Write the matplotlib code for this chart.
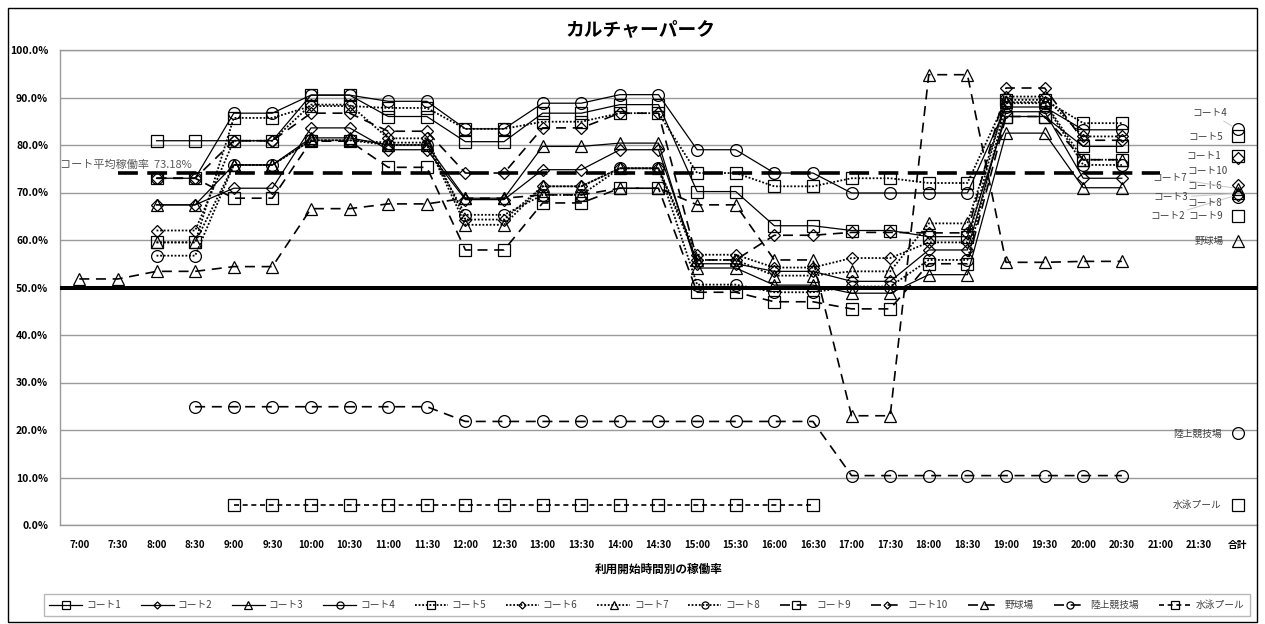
import numpy as np
import matplotlib
matplotlib.use('Agg')
import matplotlib.pyplot as plt
from matplotlib.patches import Rectangle
from matplotlib.ticker import FuncFormatter

plt.rcParams['font.family'] = ['Noto Sans CJK JP', 'DejaVu Sans']

nan = np.nan

title = 'カルチャーパーク'
x_title = '利用開始時間別の稼働率'
categories = ['7:00', '7:30', '8:00', '8:30', '9:00', '9:30', '10:00', '10:30',
              '11:00', '11:30', '12:00', '12:30', '13:00', '13:30', '14:00', '14:30',
              '15:00', '15:30', '16:00', '16:30', '17:00', '17:30', '18:00', '18:30',
              '19:00', '19:30', '20:00', '20:30', '21:00', '21:30', '合計']

court1 = [nan, nan, 80.9, 80.9, 80.9, 80.9, 90.5, 90.5, 86.0, 86.0, 80.7, 80.7, 86.7, 86.7, 88.5, 88.5,
          70.2, 70.2, 63.0, 63.0, 62.0, 62.0, 60.7, 60.7, 86.0, 86.0, 79.7, 79.7, nan, nan, 77.6]
court2 = [nan, nan, 67.4, 67.4, 70.9, 70.9, 83.6, 83.6, 79.0, 79.0, 68.5, 68.5, 74.8, 74.8, 79.0, 79.0,
          55.0, 55.0, 53.4, 53.4, 51.3, 51.3, 57.9, 57.9, 87.0, 87.0, 73.0, 73.0, nan, nan, 69.5]
court3 = [nan, nan, 67.4, 67.4, 75.8, 75.8, 81.5, 81.5, 80.0, 80.0, 68.8, 68.8, 79.7, 79.7, 80.4, 80.4,
          54.1, 54.1, 50.5, 50.5, 48.8, 48.8, 52.7, 52.7, 82.5, 82.5, 71.0, 71.0, nan, nan, 69.8]
court4 = [nan, nan, 73.0, 73.0, 86.7, 86.7, 90.5, 90.5, 89.2, 89.2, 83.4, 83.4, 88.8, 88.8, 90.6, 90.6,
          79.0, 79.0, 74.1, 74.1, 69.9, 69.9, 69.9, 69.9, 88.0, 88.0, 83.2, 83.2, nan, nan, 83.3]
court5 = [nan, nan, 59.5, 59.5, 85.7, 85.7, 88.2, 88.2, 87.8, 87.8, 83.4, 83.4, 84.9, 84.9, 86.7, 86.7,
          74.1, 74.1, 71.3, 71.3, 73.0, 73.0, 72.0, 72.0, 89.5, 89.5, 84.6, 84.6, nan, nan, 82.0]
court6 = [nan, nan, 62.0, 62.0, 80.9, 80.9, 88.5, 88.5, 81.4, 81.4, 64.3, 64.3, 71.3, 71.3, 75.1, 75.1,
          56.9, 56.9, 54.2, 54.2, 56.2, 56.2, 59.5, 59.5, 90.2, 90.2, 81.8, 81.8, nan, nan, 71.5]
court7 = [nan, nan, 59.5, 59.5, 75.8, 75.8, 81.0, 81.0, 80.5, 80.5, 63.2, 63.2, 71.3, 71.3, 75.1, 75.1,
          55.8, 55.8, 52.5, 52.5, 53.4, 53.4, 63.5, 63.5, 89.0, 89.0, 76.9, 76.9, nan, nan, 70.8]
court8 = [nan, nan, 56.7, 56.7, 75.8, 75.8, 81.0, 81.0, 80.0, 80.0, 65.3, 65.3, 69.5, 69.5, 75.1, 75.1,
          50.6, 50.6, 49.0, 49.0, 50.2, 50.2, 55.8, 55.8, 88.8, 88.8, 75.8, 75.8, nan, nan, 69.0]
court9 = [nan, nan, 73.0, 73.0, 68.8, 68.8, 80.8, 80.8, 75.3, 75.3, 57.9, 57.9, 67.8, 67.8, 70.9, 70.9,
          49.0, 49.0, 47.0, 47.0, 45.5, 45.5, 55.0, 55.0, 86.0, 86.0, 76.9, 76.9, nan, nan, 65.1]
court10 = [nan, nan, 73.0, 73.0, 80.9, 80.9, 86.7, 86.7, 82.9, 82.9, 74.1, 74.1, 83.6, 83.6, 86.7, 86.7,
           55.8, 55.8, 61.0, 61.0, 61.6, 61.6, 61.5, 61.5, 92.0, 92.0, 81.0, 81.0, nan, nan, 77.3]
baseball = [51.8, 51.8, 53.4, 53.4, 54.4, 54.4, 66.6, 66.6, 67.6, 67.6, 68.8, 68.8, 69.5, 69.5, 70.9, 70.9,
            67.4, 67.4, 55.8, 55.8, 23.0, 23.0, 94.8, 94.8, 55.3, 55.3, 55.5, 55.5, nan, nan, 59.8]
athletics = [nan, nan, nan, 24.9, 24.9, 24.9, 24.9, 24.9, 24.9, 24.9, 21.8, 21.8, 21.8, 21.8, 21.8, 21.8,
             21.8, 21.8, 21.8, 21.8, 10.4, 10.4, 10.4, 10.4, 10.4, 10.4, 10.4, 10.4, nan, nan, 19.3]
pool = [nan, nan, nan, nan, 4.25, 4.25, 4.25, 4.25, 4.25, 4.25, 4.25, 4.25, 4.25, 4.25, 4.25, 4.25,
        4.25, 4.25, 4.25, 4.25, nan, nan, nan, nan, nan, nan, nan, nan, nan, nan, 4.25]

series_names = ['コート1', 'コート2', 'コート3', 'コート4', 'コート5', 'コート6', 'コート7', 'コート8',
                'コート9', 'コート10', '野球場', '陸上競技場', '水泳プール']
series_values = [court1, court2, court3, court4, court5, court6, court7, court8,
                 court9, court10, baseball, athletics, pool]

avg_label = 'コート平均稼働率  73.18%'
avg_line = [nan] + [74.1] * 28 + [nan, nan]
target_line = 50.0

# ---- styles ----
SOLID = '-'
DOT = (0, (1.0, 1.0))
DASH = (0, (6, 4))
SDASH = (0, (3, 2.2))
styles = [
    (SOLID, 's', 8.5, 0.9), (SOLID, 'D', 6.0, 0.9), (SOLID, '^', 9.0, 0.9), (SOLID, 'o', 8.5, 0.9),
    (DOT, 's', 8.5, 1.3), (DOT, 'D', 6.0, 1.3), (DOT, '^', 9.0, 1.3), (DOT, 'o', 8.5, 1.3),
    (DASH, 's', 8.5, 1.2), (DASH, 'D', 6.0, 1.2), (DASH, '^', 9.0, 1.2), (DASH, 'o', 8.5, 1.2),
    (SDASH, 's', 8.5, 1.2),
]

W, H = 1265, 624
fig = plt.figure(figsize=(W / 100, H / 100), dpi=100)
fig.patch.set_facecolor('white')
ax = fig.add_axes([60 / W, 1 - 525 / H, 1197 / W, 475 / H])

x = np.arange(len(categories))
handles = []
for name, vals, (ls, mk, ms, lw) in zip(series_names, series_values, styles):
    h, = ax.plot(x, vals, color='black', linestyle=ls, lw=lw, marker=mk, ms=ms,
                 mfc='none', mec='black', mew=0.9, label=name, zorder=3)
    handles.append(h)

ax.axhline(target_line, color='black', lw=2.9, zorder=4)
ax.plot(x, avg_line, color='black', lw=2.6, linestyle=(0, (5.5, 2.6)), zorder=4)
ax.text(-0.5, 74.1 + 0.7, avg_label, fontsize=8, color='#595959', ha='left', va='bottom', zorder=5)

ax.set_xlim(-0.5, len(categories) - 0.5)
ax.set_ylim(0, 100)
ax.set_yticks(np.arange(0, 101, 10))
ax.yaxis.set_major_formatter(FuncFormatter(lambda v, p: f'{v:.1f}%'))
ax.set_xticks(x)
ax.set_xticklabels(categories)
ax.tick_params(axis='both', length=0)
ax.tick_params(axis='y', pad=8.5, labelsize=7.5)
ax.tick_params(axis='x', pad=11, labelsize=7)
for lab in ax.get_yticklabels() + ax.get_xticklabels():
    lab.set_fontweight('bold')
ax.yaxis.grid(True, color='#9a9a9a', lw=1.0)
ax.set_axisbelow(True)
for s in ['left', 'bottom', 'top']:
    ax.spines[s].set_color('#9a9a9a')
    ax.spines[s].set_linewidth(1.0)
ax.spines['right'].set_visible(False)

ax.set_xlabel(x_title, fontsize=8.4, fontweight='bold', labelpad=9)
fig.text(640 / W, 1 - 30 / H, title, fontsize=13.5, fontweight='bold', ha='center', va='center')

# data labels at 合計
label_offsets = {
    'コート4': (-10, 16, True), 'コート5': (-15, -1, False), 'コート1': (-16, 0, False),
    'コート10': (-10, -13, False), 'コート7': (-51, 11, True), 'コート6': (-15, -1, False),
    'コート3': (-49, -4, True), 'コート8': (-15, -6, False), 'コート2': (-53, -21, True),
    'コート9': (-15, 0, False), '野球場': (-14, 0, False), '陸上競技場': (-16, -1, False),
    '水泳プール': (-16, 0, False),
}
last = len(categories) - 1
for name, vals in zip(series_names, series_values):
    dx, dy, leader = label_offsets[name]
    kw = {}
    if leader:
        kw['arrowprops'] = dict(arrowstyle='-', color='#c8c8c8', lw=0.7, shrinkA=0, shrinkB=4)
    ax.annotate(name, xy=(last, vals[last]), xytext=(dx, dy), textcoords='offset pixels',
                ha='right', va='center', fontsize=7, color='#404040', zorder=6, **kw)

leg = fig.legend(handles=handles, loc='center', bbox_to_anchor=(647 / W, 1 - 605 / H), ncol=13,
                 fontsize=7, frameon=True, fancybox=False, edgecolor='#a6a6a6', handlelength=3.4,
                 handletextpad=0.4, columnspacing=2.02, markerscale=0.6, borderpad=0.6)
leg.get_frame().set_linewidth(1.0)
for t in leg.get_texts():
    t.set_color('#404040')

fig.add_artist(Rectangle((8 / W, 2 / H), (1257 - 8) / W, (616 - 2) / H, transform=fig.transFigure,
                         fill=False, edgecolor='black', lw=1.0))

fig.savefig('out.png', dpi=100)
